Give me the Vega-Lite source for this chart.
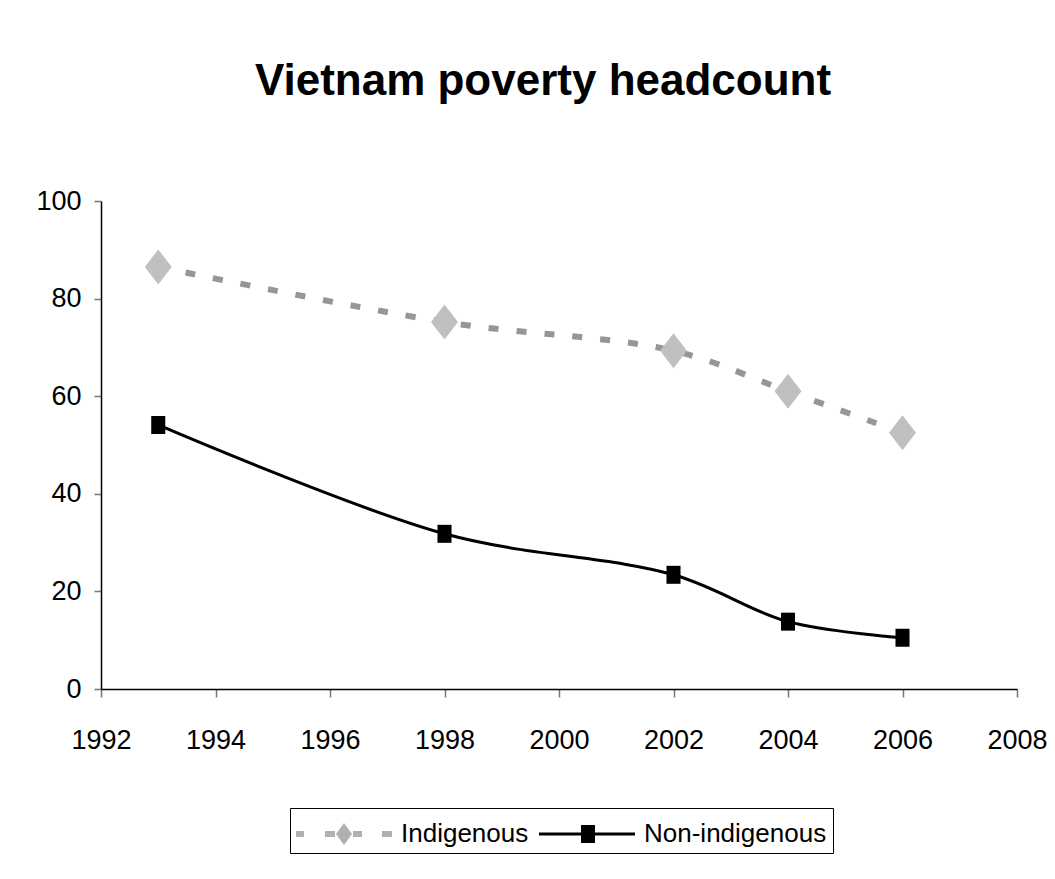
{
  "$schema": "https://vega.github.io/schema/vega-lite/v6.json",
  "autosize": "none",
  "width": 916,
  "height": 488,
  "padding": {"left": 101, "top": 201, "right": 38, "bottom": 190},
  "background": "white",
  "title": {
    "text": "Vietnam poverty headcount",
    "font": "Liberation Sans, Arial, sans-serif",
    "fontSize": 44,
    "fontWeight": "bold",
    "color": "black",
    "anchor": "middle",
    "frame": "group",
    "dx": -16,
    "baseline": "alphabetic",
    "offset": 48
  },
  "data": {
    "values": [
      {"year": 1993, "value": 86.5, "series": "Indigenous"},
      {"year": 1998, "value": 75.2, "series": "Indigenous"},
      {"year": 2002, "value": 69.3, "series": "Indigenous"},
      {"year": 2004, "value": 61.0, "series": "Indigenous"},
      {"year": 2006, "value": 52.5, "series": "Indigenous"},
      {"year": 1993, "value": 54.1, "series": "Non-indigenous"},
      {"year": 1998, "value": 31.8, "series": "Non-indigenous"},
      {"year": 2002, "value": 23.4, "series": "Non-indigenous"},
      {"year": 2004, "value": 13.8, "series": "Non-indigenous"},
      {"year": 2006, "value": 10.5, "series": "Non-indigenous"}
    ]
  },
  "encoding": {
    "x": {
      "field": "year",
      "type": "quantitative",
      "scale": {"domain": [1992, 2008], "nice": false, "zero": false},
      "axis": {
        "title": null,
        "values": [1992, 1994, 1996, 1998, 2000, 2002, 2004, 2006, 2008],
        "format": "d",
        "grid": false,
        "domainColor": "black",
        "domainWidth": 1.5,
        "tickColor": "#777777",
        "tickWidth": 1.5,
        "tickSize": 8,
        "labelFont": "Liberation Sans, Arial, sans-serif",
        "labelFontSize": 27,
        "labelColor": "black",
        "labelPadding": 30,
        "labelFlush": false,
        "labelOverlap": false
      }
    },
    "y": {
      "field": "value",
      "type": "quantitative",
      "scale": {"domain": [0, 100], "nice": false},
      "axis": {
        "title": null,
        "values": [0, 20, 40, 60, 80, 100],
        "grid": false,
        "domainColor": "black",
        "domainWidth": 1.5,
        "tickColor": "#777777",
        "tickWidth": 1.5,
        "tickSize": 7,
        "labelFont": "Liberation Sans, Arial, sans-serif",
        "labelFontSize": 27,
        "labelColor": "black",
        "labelPadding": 13,
        "labelFlush": false,
        "labelOverlap": false
      }
    }
  },
  "layer": [
    {
      "transform": [{"filter": "datum.series === 'Indigenous'"}],
      "mark": {"type": "line", "interpolate": "catmull-rom", "stroke": "#969696", "strokeWidth": 6, "strokeDash": [10, 18], "strokeCap": "butt"}
    },
    {
      "transform": [{"filter": "datum.series === 'Non-indigenous'"}],
      "mark": {"type": "line", "interpolate": "catmull-rom", "stroke": "black", "strokeWidth": 3}
    },
    {
      "transform": [{"filter": "datum.series === 'Indigenous'"}],
      "mark": {"type": "point", "filled": true, "opacity": 1, "size": 1225, "strokeWidth": 0, "fill": "#c0c0c0", "shape": "M0,-1L0.77,0L0,1L-0.77,0Z"}
    },
    {
      "transform": [{"filter": "datum.series === 'Non-indigenous'"}],
      "mark": {"type": "point", "filled": true, "opacity": 1, "size": 324, "strokeWidth": 0, "fill": "black", "shape": "M-0.78,-1H0.78V1H-0.78Z"}
    },
    {
      "transform": [{"filter": "false"}],
      "mark": {"type": "point", "filled": true, "opacity": 1, "strokeWidth": 0},
      "encoding": {
        "shape": {
          "field": "series",
          "type": "nominal",
          "scale": {"domain": ["Indigenous", "Non-indigenous"], "range": [
            "M-1,-0.15H-0.6V0.15H-1Z M0.45,-0.15H0.95V0.15H0.45Z M1.4,-0.55L1.8,0L1.4,0.55L1,0Z M1.85,-0.15H2.3V0.15H1.85Z M3.3,-0.15H3.8V0.15H3.3Z",
            "M-1,-0.075H3.8V0.075H-1Z M1.1,-0.45H1.8V0.45H1.1Z"
          ]},
          "legend": {
            "title": null,
            "orient": "none",
            "legendX": 189,
            "legendY": 607,
            "direction": "horizontal",
            "strokeColor": "black",
            "fillColor": "white",
            "padding": 6,
            "symbolSize": 1600,
            "symbolStrokeWidth": 0,
            "symbolOpacity": 1,
            "labelFont": "Liberation Sans, Arial, sans-serif",
            "labelFontSize": 26,
            "labelColor": "black",
            "labelLimit": 0,
            "labelOffset": 65,
            "columnPadding": 10
          }
        },
        "fill": {
          "field": "series",
          "type": "nominal",
          "scale": {"domain": ["Indigenous", "Non-indigenous"], "range": ["#b0b0b0", "black"]}
        }
      }
    }
  ],
  "config": {
    "view": {"stroke": null}
  }
}
